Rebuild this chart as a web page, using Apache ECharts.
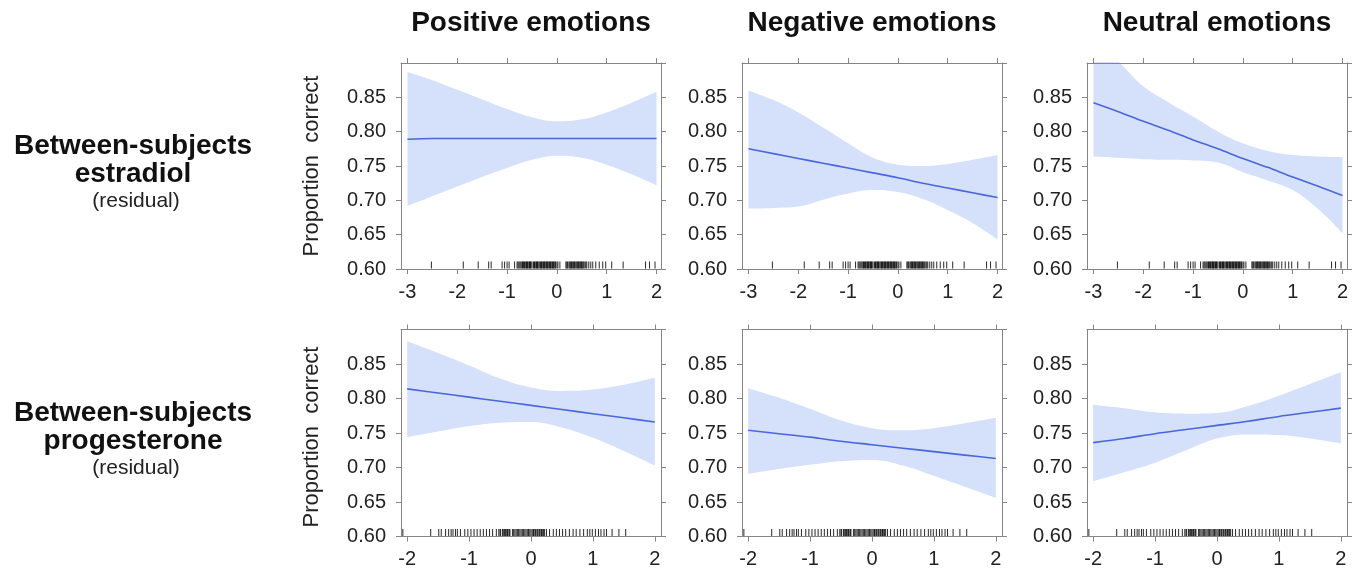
<!DOCTYPE html>
<html>
<head>
<meta charset="utf-8">
<script src="https://cdn.jsdelivr.net/npm/echarts@6/dist/echarts.min.js"></script>
<style>
  html, body { margin: 0; padding: 0; background: #fff; }
  #chart { width: 1360px; height: 572px; }
</style>
</head>
<body>
<div id="chart"></div>
<script>
const xEstr = [-3, -2.5, -2, -1.5, -1, -0.5, 0, 0.5, 1, 1.5, 2]
const xProg = [-2, -1.5, -1, -0.5, 0, 0.5, 1, 1.5, 2]

// estradiol row
const fitPosEstr = [0.789, 0.790, 0.790, 0.790, 0.790, 0.790, 0.790, 0.790, 0.790, 0.790, 0.790]
const upPosEstr = [0.887, 0.875, 0.861, 0.847, 0.833, 0.821, 0.815, 0.818, 0.828, 0.842, 0.858]
const loPosEstr = [0.692, 0.706, 0.720, 0.734, 0.747, 0.759, 0.765, 0.762, 0.752, 0.738, 0.722]

const fitNegEstr = [0.775, 0.768, 0.761, 0.754, 0.747, 0.740, 0.733, 0.725, 0.718, 0.711, 0.704]
const upNegEstr = [0.860, 0.846, 0.828, 0.806, 0.783, 0.762, 0.752, 0.750, 0.753, 0.759, 0.766]
const loNegEstr = [0.688, 0.689, 0.691, 0.701, 0.710, 0.715, 0.712, 0.702, 0.686, 0.667, 0.643]

const fitNeuEstr = [0.842, 0.829, 0.815, 0.802, 0.788, 0.775, 0.761, 0.748, 0.734, 0.721, 0.707]
const upNeuEstr = [0.935, 0.902, 0.866, 0.843, 0.822, 0.800, 0.783, 0.772, 0.766, 0.764, 0.763]
const loNeuEstr = [0.764, 0.762, 0.760, 0.759, 0.758, 0.755, 0.741, 0.729, 0.715, 0.688, 0.652]

// progesterone row
const fitPosProg = [0.814, 0.808, 0.802, 0.796, 0.790, 0.784, 0.778, 0.772, 0.766]
const upPosProg = [0.883, 0.866, 0.848, 0.829, 0.816, 0.811, 0.813, 0.820, 0.830]
const loPosProg = [0.744, 0.752, 0.760, 0.765, 0.766, 0.758, 0.743, 0.724, 0.703]

const fitNegProg = [0.754, 0.749, 0.744, 0.738, 0.733, 0.728, 0.723, 0.718, 0.713]
const upNegProg = [0.815, 0.801, 0.785, 0.768, 0.757, 0.754, 0.757, 0.764, 0.772]
const loNegProg = [0.691, 0.698, 0.704, 0.709, 0.711, 0.703, 0.688, 0.672, 0.656]

const fitNeuProg = [0.736, 0.742, 0.749, 0.755, 0.761, 0.767, 0.774, 0.780, 0.786]
const upNeuProg = [0.791, 0.786, 0.780, 0.778, 0.779, 0.789, 0.804, 0.821, 0.838]
const loNeuProg = [0.680, 0.693, 0.707, 0.725, 0.742, 0.748, 0.747, 0.742, 0.735]

// rug marks (observed predictor values)
const rugEstr = [-2.52, -1.88, -1.58, -1.37, -1.32, -1.1, -1.05, -1.0, -0.96, -0.85, -0.8, -0.78,
  -0.76, -0.74, -0.72, -0.7, -0.69, -0.67, -0.65, -0.64, -0.62, -0.61, -0.59, -0.58, -0.56, -0.55,
  -0.53, -0.52, -0.5, -0.47, -0.45, -0.44, -0.42, -0.41, -0.39, -0.38, -0.36, -0.34, -0.33, -0.31,
  -0.3, -0.28, -0.27, -0.25, -0.24, -0.22, -0.21, -0.19, -0.18, -0.16, -0.15, -0.13, -0.12, -0.1,
  -0.09, -0.07, -0.06, -0.04, -0.03, 0.0, 0.02, 0.06, 0.18, 0.2, 0.21, 0.24, 0.26, 0.27, 0.29, 0.3,
  0.32, 0.33, 0.35, 0.36, 0.38, 0.4, 0.41, 0.43, 0.44, 0.46, 0.47, 0.49, 0.5, 0.52, 0.53, 0.56,
  0.58, 0.6, 0.64, 0.68, 0.72, 0.78, 0.85, 0.92, 0.98, 1.1, 1.33, 1.78, 1.86, 1.97]
const rugProg = [-2.07, -1.62, -1.49, -1.45, -1.38, -1.33, -1.29, -1.26, -1.22, -1.19, -1.14,
  -1.07, -1.02, -0.97, -0.92, -0.87, -0.82, -0.77, -0.72, -0.67, -0.62, -0.56, -0.52, -0.5, -0.49,
  -0.46, -0.44, -0.43, -0.41, -0.4, -0.38, -0.37, -0.35, -0.34, -0.3, -0.28, -0.26, -0.24, -0.22,
  -0.2, -0.18, -0.16, -0.14, -0.12, -0.1, -0.08, -0.06, -0.04, -0.02, 0.0, 0.02, 0.04, 0.05, 0.07,
  0.08, 0.1, 0.11, 0.13, 0.14, 0.16, 0.17, 0.19, 0.2, 0.22, 0.25, 0.3, 0.36, 0.41, 0.46, 0.51,
  0.56, 0.62, 0.68, 0.73, 0.79, 0.85, 0.91, 0.95, 0.99, 1.04, 1.09, 1.13, 1.18, 1.22, 1.31, 1.42, 1.53]

// tick labels
const xTicksEstr = [-3, -2, -1, 0, 1, 2]
const xTicksProg = [-2, -1, 0, 1, 2]
const colTitles = ['Positive emotions', 'Negative emotions', 'Neutral emotions']
const rowTitles = [['Between-subjects', 'estradiol'], ['Between-subjects', 'progesterone']]

const font = 'Liberation Sans, Arial, sans-serif'
const frameColor = '#858585'
const bandColor = '#d5e0fb'
const lineColor = '#4a66d8'

const panels = [
  { x: xEstr, fit: fitPosEstr, up: upPosEstr, lo: loPosEstr, rug: rugEstr, ticks: xTicksEstr, min: -3.13, max: 2.09 },
  { x: xEstr, fit: fitNegEstr, up: upNegEstr, lo: loNegEstr, rug: rugEstr, ticks: xTicksEstr, min: -3.13, max: 2.09 },
  { x: xEstr, fit: fitNeuEstr, up: upNeuEstr, lo: loNeuEstr, rug: rugEstr, ticks: xTicksEstr, min: -3.13, max: 2.09 },
  { x: xProg, fit: fitPosProg, up: upPosProg, lo: loPosProg, rug: rugProg, ticks: xTicksProg, min: -2.1, max: 2.1 },
  { x: xProg, fit: fitNegProg, up: upNegProg, lo: loNegProg, rug: rugProg, ticks: xTicksProg, min: -2.1, max: 2.1 },
  { x: xProg, fit: fitNeuProg, up: upNeuProg, lo: loNeuProg, rug: rugProg, ticks: xTicksProg, min: -2.1, max: 2.1 }
]

const lefts = [401, 742, 1087]
const tops = [63, 329.5]
const heights = [206, 207]

const chart = echarts.init(document.getElementById('chart'))

const grid = []
const xAxis = []
const yAxis = []
const series = []
const graphic = []

panels.forEach((p, i) => {
  const row = Math.floor(i / 3)
  const col = i % 3
  grid.push({ left: lefts[col], top: tops[row], width: 260, height: heights[row] })

  const lineStyle = { color: frameColor, width: 1 }
  // bottom axis with labels, top axis with ticks only
  ;['bottom', 'top'].forEach(pos => {
    xAxis.push({
      gridIndex: i, type: 'value', position: pos, min: p.min, max: p.max, z: 10,
      axisLine: { show: true, onZero: false, lineStyle },
      axisTick: { show: true, length: 5, customValues: p.ticks, lineStyle },
      axisLabel: {
        show: pos === 'bottom', customValues: p.ticks, margin: 13,
        fontFamily: font, fontSize: 20, color: '#222'
      },
      splitLine: { show: false }
    })
  })
  ;['left', 'right'].forEach(pos => {
    yAxis.push({
      gridIndex: i, type: 'value', position: pos, min: 0.6, max: 0.9, interval: 0.05, z: 10,
      axisLine: { show: true, onZero: false, lineStyle },
      axisTick: { show: true, length: 5, lineStyle },
      axisLabel: {
        show: pos === 'left', showMaxLabel: false, margin: 15,
        fontFamily: font, fontSize: 20, color: '#222',
        formatter: v => v.toFixed(2)
      },
      splitLine: { show: false }
    })
  })

  const xa = 2 * i
  const ya = 2 * i
  // confidence band as a stack: lower edge, then width on top of it.
  // y is put in the first column so that it is the stacked dimension.
  series.push({
    type: 'line', xAxisIndex: xa, yAxisIndex: ya, stack: 'band' + i,
    encode: { x: 1, y: 0 },
    data: p.x.map((x, k) => [p.lo[k], x]),
    symbol: 'none', smooth: 0.4, silent: true,
    lineStyle: { opacity: 0 }
  })
  series.push({
    type: 'line', xAxisIndex: xa, yAxisIndex: ya, stack: 'band' + i,
    encode: { x: 1, y: 0 },
    data: p.x.map((x, k) => [+(p.up[k] - p.lo[k]).toFixed(4), x]),
    symbol: 'none', smooth: 0.4, silent: true,
    lineStyle: { opacity: 0 },
    areaStyle: { color: bandColor, opacity: 1 }
  })
  series.push({
    type: 'line', xAxisIndex: xa, yAxisIndex: ya, z: 5,
    data: p.x.map((x, k) => [x, p.fit[k]]),
    symbol: 'none', smooth: 0.3, silent: true,
    lineStyle: { color: lineColor, width: 1.6 }
  })
  series.push({
    type: 'scatter', xAxisIndex: xa, yAxisIndex: ya, clip: false, z: 6,
    data: p.rug.map(x => [x, 0.6]),
    symbol: 'rect', symbolSize: [1, 7], symbolOffset: [0, -4],
    itemStyle: { color: '#111', opacity: 0.9 }, silent: true
  })
})

colTitles.forEach((t, c) => {
  graphic.push({
    type: 'text', x: lefts[c] + 130, y: 23,
    style: { text: t, font: 'bold 28px ' + font, fill: '#111', textAlign: 'center', textVerticalAlign: 'middle' }
  })
})

rowTitles.forEach((lines, r) => {
  const y0 = r === 0 ? 146 : 413
  lines.forEach((t, k) => {
    graphic.push({
      type: 'text', x: 133, y: y0 + k * 28,
      style: { text: t, font: 'bold 28px ' + font, fill: '#111', textAlign: 'center', textVerticalAlign: 'middle' }
    })
  })
  graphic.push({
    type: 'text', x: 136, y: y0 + 55,
    style: { text: '(residual)', font: '21px ' + font, fill: '#222', textAlign: 'center', textVerticalAlign: 'middle' }
  })
  graphic.push({
    type: 'text', x: 312, y: r === 0 ? 166 : 437, rotation: Math.PI / 2,
    style: { text: 'Proportion  correct', font: '22px ' + font, fill: '#222', textAlign: 'center', textVerticalAlign: 'middle' }
  })
})

const option = {
  backgroundColor: '#fff',
  animation: false,
  grid,
  xAxis,
  yAxis,
  series,
  graphic
}
option && chart.setOption(option)
</script>
</body>
</html>
